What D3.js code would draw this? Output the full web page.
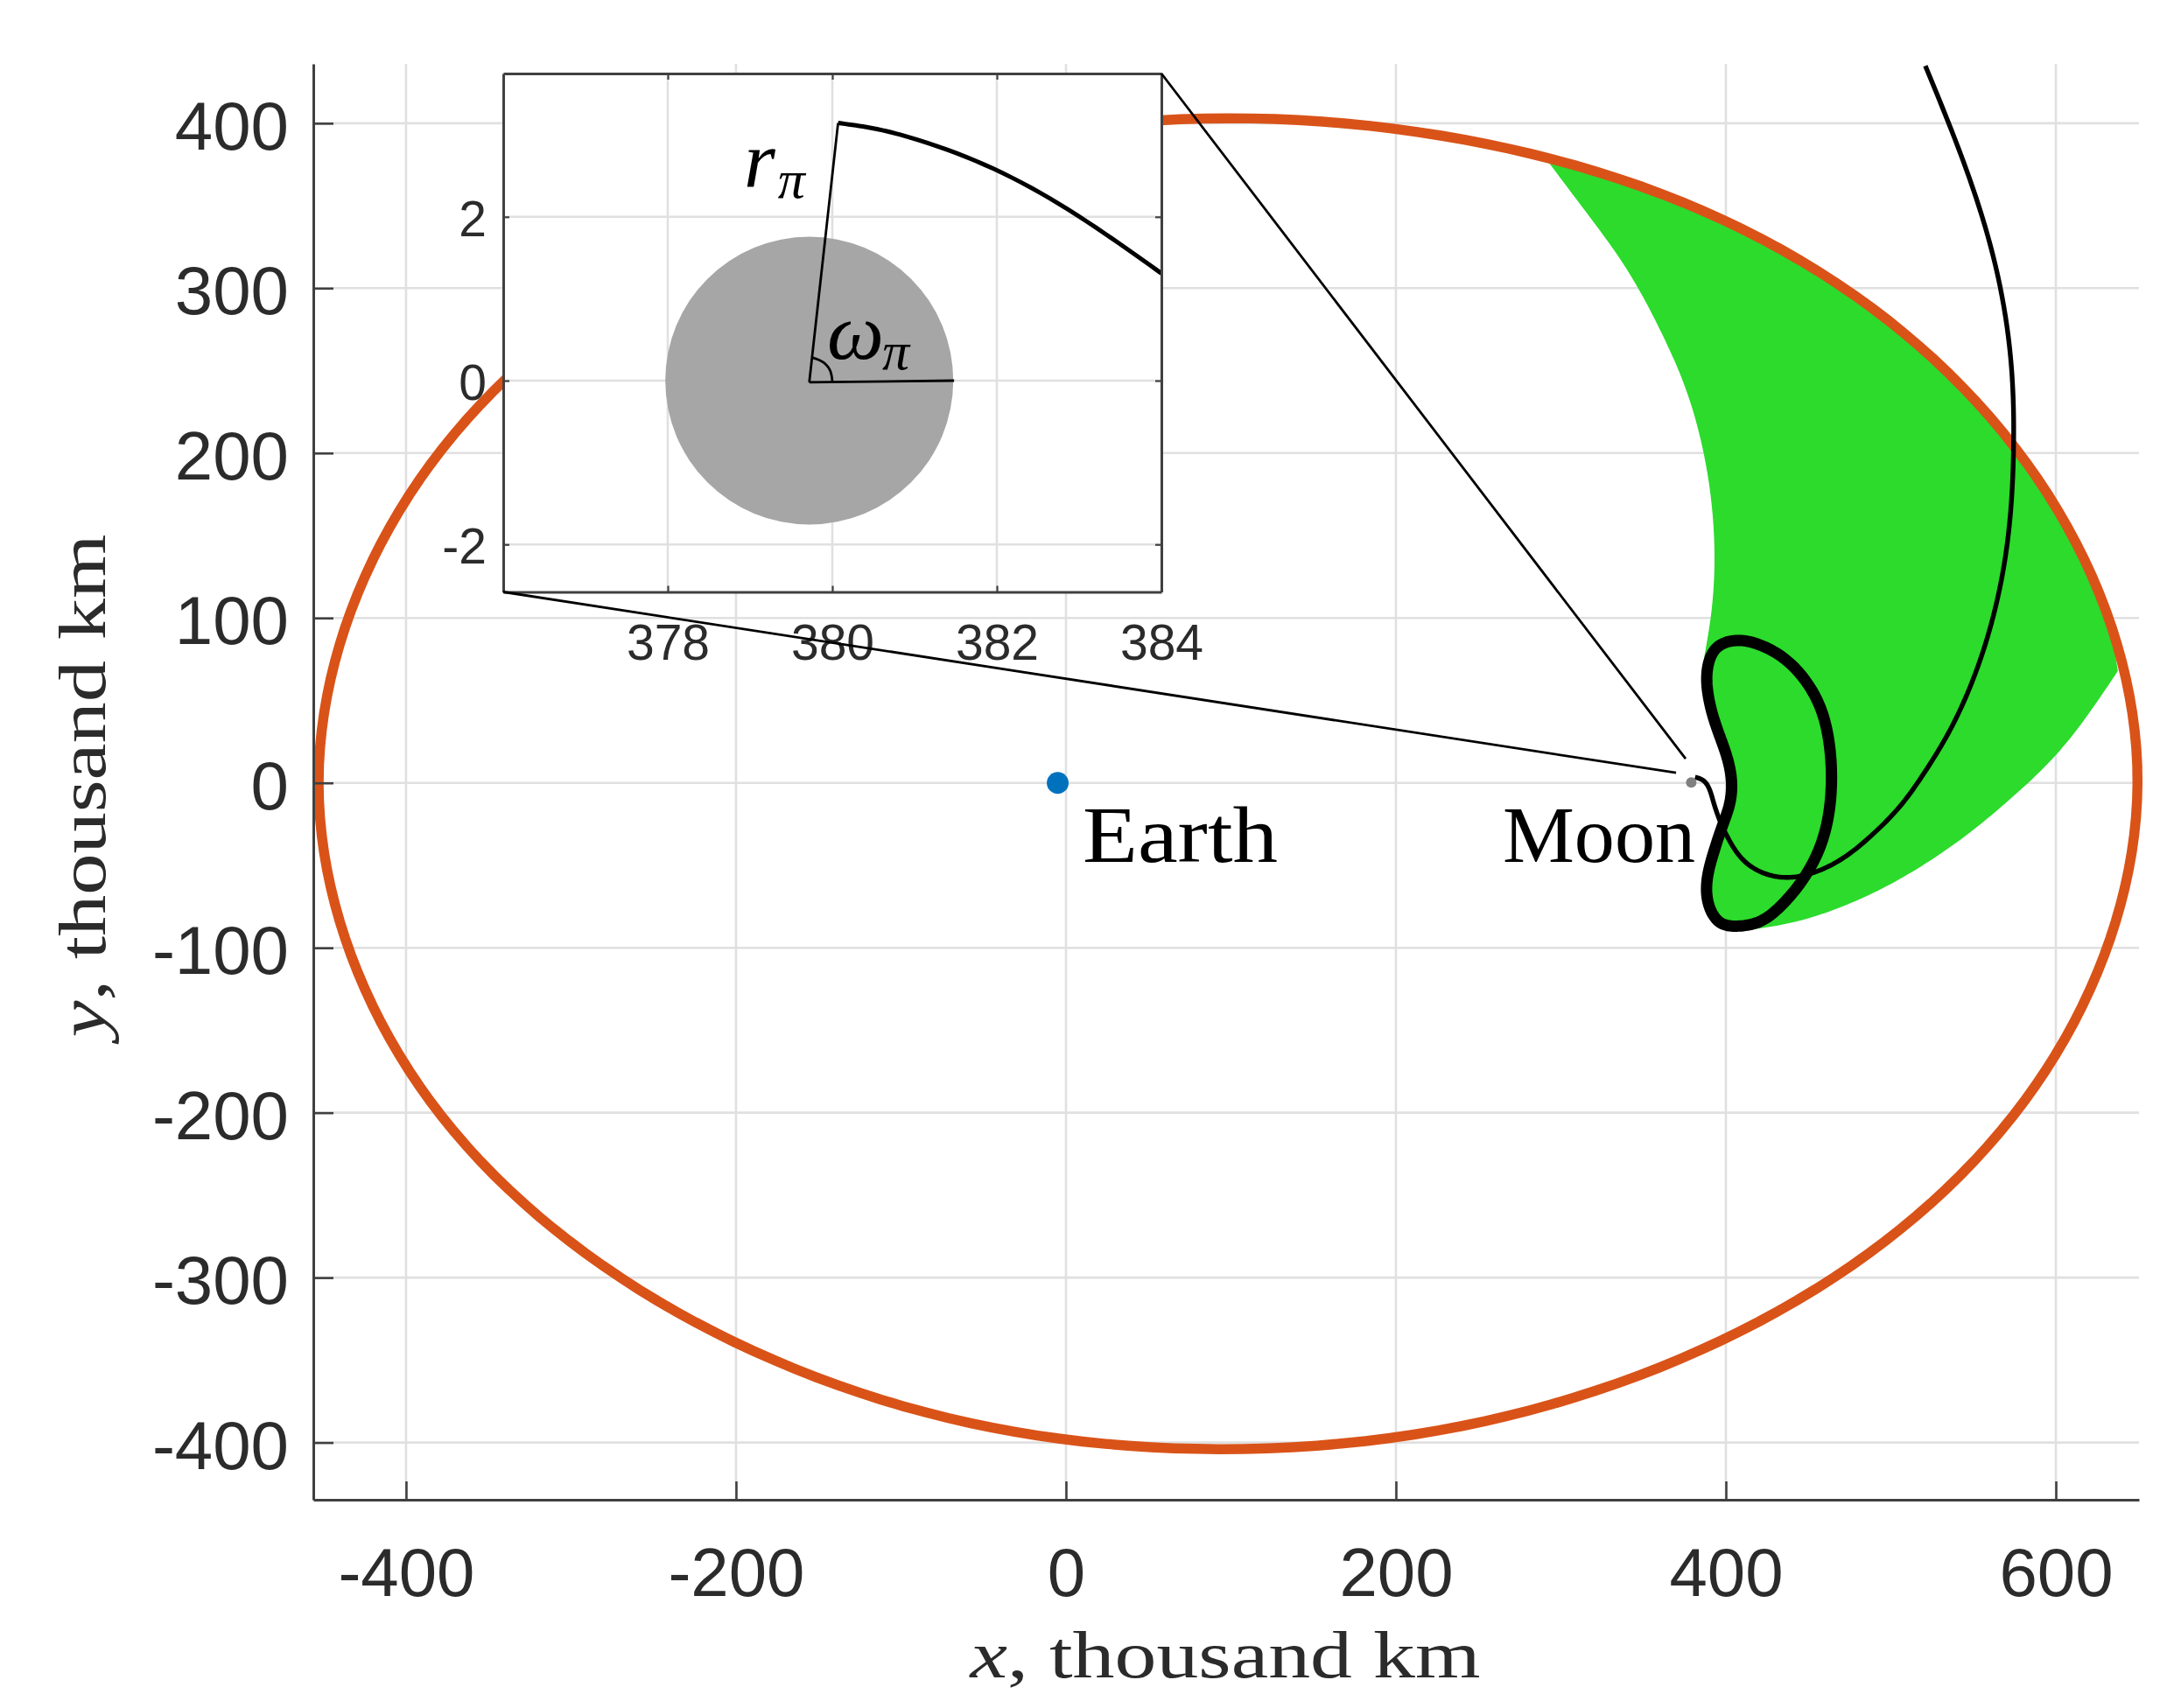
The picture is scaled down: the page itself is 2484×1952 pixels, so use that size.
<!DOCTYPE html>
<html><head><meta charset="utf-8">
<script src="https://cdn.jsdelivr.net/npm/d3@7"></script>
<style>html,body{margin:0;padding:0;background:#fff}svg{display:block}</style>
</head><body><svg id="c" width="2484" height="1952"></svg>
<script>
// Main axes (thousand km)
const xTicks = [-400,-200,0,200,400,600];
const yTicks = [-400,-300,-200,-100,0,100,200,300,400];
const xDomain = [-456.2,650.4];
const yDomain = [-434.7,436];
// Inset axes
const insetXTicks = [378,380,382,384];
const insetYTicks = [-2,0,2];
const insetXDomain = [376,384];
const insetYDomain = [-2.58,3.75];

const orbit = [[649.5,0],[630.5,104],[575.5,203],[488.5,288],[374,352],[241.5,390],[98,403],[-44.5,389],[-177,349],[-291.5,285],[-378.5,202],[-433.5,104],[-453,0],[-433.5,-104],[-378.5,-202],[-291.5,-285],[-177,-350],[-44.5,-391],[93,-404],[240,-390],[373,-349],[487,-285],[574,-202],[629.5,-104]];
const bean = [[407.8,86.4],[420.2,83.8],[432.5,77.5],[446.7,64],[457.3,45.5],[462.6,24],[464,2.4],[462.6,-17],[457.3,-38.2],[448.4,-55.9],[434.3,-73.6],[420.2,-84.2],[407.8,-86.8],[397.2,-85.1],[390.1,-75.4],[388.3,-63],[392.7,-41.8],[398,-25.8],[402.5,-11.7],[403.3,2.4],[399.8,18.4],[393.6,36],[389.2,53.7],[388.9,69.6],[394.5,82]];
const trajectory = [[381.3,3.5],[385.5,2],[392.3,-11],[401.6,-34],[411.3,-47.5],[423.7,-55],[436.1,-57.3],[453.7,-54.2],[471.5,-45.3],[489.1,-31.1],[505.2,-14.6],[520.5,6.5],[534.5,29.5],[546.5,54.5],[561,97],[569.7,139],[574.4,205],[573.1,251.8],[563.4,313.7],[545.7,372],[520.9,434.8]];
// Green region boundary pieces
const greenInner = [[292,377],[317.6,343],[337,316],[361.8,271.2],[374.2,242.9],[386.6,199.6],[393.1,136.8],[391,101.9],[387,77]];
const greenBeanSide = [[387,77],[389.2,53.7],[393.6,36],[399.8,18.4],[403.3,2.4],[402.5,-11.7],[398,-25.8],[392.7,-41.8],[388.3,-63],[390.1,-75.4],[397.2,-85.1],[407.8,-86.8],[416.6,-88.9]];
const greenOuter = [[416.6,-88.9],[441.4,-84.4],[467.9,-76],[494.4,-64.2],[520.9,-49],[547.5,-30.4],[574,-8.3],[600.5,17.4],[618.2,39.6],[637.6,67.9]];
const greenOrbit = [[637.6,67.9],[630.5,104],[575.5,203],[488.5,288],[374,352],[292,377]];

const earth = [-5,0];
const moonMain = [379,0.3];
const connectorEnds = [[375.6,14.6],[369.8,6.1]];

// Inset marks
const moonCentre = [379.72,0];
const moonRadius = 1.75;
const insetArc = [[380.07,3.146],[380.5,3.08],[381.04,2.94],[382.18,2.48],[383.32,1.79],[384,1.31]];
const radiusLine = [[379.72,-0.02],[380.07,3.146]];
const angleLine = [[379.72,-0.02],[381.48,0]];
const angleMark = [[380,-0.01],[379.97,0.13],[379.88,0.23],[379.76,0.28]];

const svg = d3.select('#c');
const SANS = "'Liberation Sans',Arial,sans-serif";
const SERIF = "'Liberation Serif','Times New Roman',serif";
const INK = '#2b2b2b', SPINE = '#404040', GRID = '#e0e0e0';

const x = d3.scaleLinear().domain(xDomain).range([358,2444]);
const y = d3.scaleLinear().domain(yDomain).range([1714,73]);
const ix = d3.scaleLinear().domain(insetXDomain).range([575,1327]);
const iy = d3.scaleLinear().domain(insetYDomain).range([676.5,84]);

const mainLine = d3.line().x(d=>x(d[0])).y(d=>y(d[1]));
const insetLine = d3.line().x(d=>ix(d[0])).y(d=>iy(d[1]));

// d3 curve factory: natural cubic spline parameterised by chord length,
// so unevenly spaced read-off points still give a smooth stroke.
function splineCoord(t, v){
  const n=v.length, a=new Array(n).fill(0), b=new Array(n).fill(1), c=new Array(n).fill(0), r=new Array(n).fill(0);
  for(let i=1;i<n-1;i++){
    const h0=t[i]-t[i-1], h1=t[i+1]-t[i];
    a[i]=h0; b[i]=2*(h0+h1); c[i]=h1; r[i]=6*((v[i+1]-v[i])/h1-(v[i]-v[i-1])/h0);
  }
  for(let i=1;i<n;i++){const m=a[i]/b[i-1]; b[i]-=m*c[i-1]; r[i]-=m*r[i-1];}
  const s=new Array(n).fill(0);
  s[n-1]=r[n-1]/b[n-1];
  for(let i=n-2;i>=0;i--) s[i]=(r[i]-c[i]*s[i+1])/b[i];
  return (i,u)=>{
    const h=t[i+1]-t[i], A=1-u, B=u;
    return A*v[i]+B*v[i+1]+((A*A*A-A)*s[i]+(B*B*B-B)*s[i+1])*h*h/6;
  };
}
function chordSpline(context, closed){
  let px=[],py=[];
  return {
    lineStart(){px=[];py=[];},
    point(a,b){px.push(a);py.push(b);},
    areaStart(){},areaEnd(){},
    lineEnd(){
      const n=px.length;
      const X=closed?[...px,...px,...px,px[0]]:px, Y=closed?[...py,...py,...py,py[0]]:py;
      const t=[0];
      for(let i=1;i<X.length;i++) t.push(t[i-1]+Math.hypot(X[i]-X[i-1],Y[i]-Y[i-1]));
      const fx=splineCoord(t,X), fy=splineCoord(t,Y);
      const from=closed?n:0, to=closed?2*n:X.length-1;
      context.moveTo(fx(from,0),fy(from,0));
      for(let i=from;i<to;i++) for(let k=1;k<=10;k++) context.lineTo(fx(i,k/10),fy(i,k/10));
      if(closed) context.closePath();
    }
  };
}
const curveOpen = ctx=>chordSpline(ctx,false);
const curveClosed = ctx=>chordSpline(ctx,true);
const smooth = (pts, curve=curveOpen) => mainLine.curve(curve)(pts);

function grid(sel, xs, ys, sx, sy){
  const g = sel.append('g').attr('stroke',GRID).attr('stroke-width',2.6);
  g.selectAll('.v').data(xs).join('line').attr('x1',sx).attr('x2',sx).attr('y1',sy.range()[0]).attr('y2',sy.range()[1]);
  g.selectAll('.h').data(ys).join('line').attr('y1',sy).attr('y2',sy).attr('x1',sx.range()[0]).attr('x2',sx.range()[1]);
}
function styleAxis(g, size, sw){
  g.attr('font-family',SANS).attr('font-size',size);
  g.selectAll('text').attr('fill',INK);
  g.selectAll('line').attr('stroke',SPINE).attr('stroke-width',sw);
  g.select('.domain').attr('stroke',SPINE).attr('stroke-width',3);
}

// main grid
grid(svg, xTicks, yTicks, x, y);

// green region
const greenPath = [greenInner,greenBeanSide,greenOuter,greenOrbit]
  .map((p,i)=>{const s=smooth(p);return i? 'L'+s.slice(1):s;}).join('')+'Z';
svg.append('path').attr('d',greenPath).attr('fill','#2CDB2C');

// orbit
svg.append('path').attr('d',smooth(orbit,curveClosed))
  .attr('fill','none').attr('stroke','#D95319').attr('stroke-width',11.5);

// trajectory and halo orbit
svg.append('path').attr('d',smooth(trajectory)).attr('fill','none').attr('stroke','#000').attr('stroke-width',5.4);
svg.append('path').attr('d',smooth(bean,curveClosed))
  .attr('fill','none').attr('stroke','#000').attr('stroke-width',13);

// Earth / Moon dots
svg.append('circle').attr('cx',x(earth[0])).attr('cy',y(earth[1])).attr('r',12.5).attr('fill','#0072BD');
svg.append('circle').attr('cx',x(moonMain[0])).attr('cy',y(moonMain[1])).attr('r',6).attr('fill','#808080');

// main axes
const gx = svg.append('g').attr('transform','translate(0,1714)')
  .call(d3.axisBottom(x).tickValues(xTicks).tickSize(-21).tickSizeOuter(0).tickPadding(55).tickFormat(String));
styleAxis(gx,78,2.6);
const gy = svg.append('g').attr('transform','translate(358,0)')
  .call(d3.axisLeft(y).tickValues(yTicks).tickSize(-23).tickSizeOuter(0).tickPadding(28).tickFormat(String));
styleAxis(gy,78,2.6);
gy.selectAll('text').attr('dy','.38em');

// axis titles
const xt = svg.append('text').attr('x',1400).attr('y',1917).attr('text-anchor','middle')
  .attr('font-family',SERIF).attr('font-size',76).attr('fill',INK)
  .attr('textLength',583).attr('lengthAdjust','spacingAndGlyphs');
xt.append('tspan').attr('font-style','italic').text('x');
xt.append('tspan').text(', thousand km');
const yt = svg.append('text').attr('transform','translate(120,898) rotate(-90)').attr('text-anchor','middle')
  .attr('font-family',SERIF).attr('font-size',76).attr('fill',INK)
  .attr('textLength',575).attr('lengthAdjust','spacingAndGlyphs');
yt.append('tspan').attr('font-style','italic').text('y');
yt.append('tspan').text(', thousand km');

// body labels
svg.append('text').attr('x',1237).attr('y',985).attr('font-family',SERIF).attr('font-size',92).attr('fill','#000')
  .attr('textLength',223).attr('lengthAdjust','spacingAndGlyphs').text('Earth');
svg.append('text').attr('x',1717).attr('y',985).attr('font-family',SERIF).attr('font-size',92).attr('fill','#000')
  .attr('textLength',220).attr('lengthAdjust','spacingAndGlyphs').text('Moon');

// inset
const ins = svg.append('g');
ins.append('rect').attr('x',575).attr('y',84).attr('width',752).attr('height',592.5).attr('fill','#fff');
grid(ins, insetXTicks, insetYTicks, ix, iy);
ins.append('circle').attr('cx',ix(moonCentre[0])).attr('cy',iy(moonCentre[1]))
  .attr('r',ix(moonCentre[0]+moonRadius)-ix(moonCentre[0])).attr('fill','#A6A6A6');
ins.append('path').attr('d',insetLine.curve(curveOpen)(insetArc)).attr('fill','none').attr('stroke','#000').attr('stroke-width',5);
ins.append('path').attr('d',insetLine.curve(d3.curveLinear)(radiusLine)).attr('fill','none').attr('stroke','#000').attr('stroke-width',2.8);
ins.append('path').attr('d',insetLine.curve(d3.curveLinear)(angleLine)).attr('fill','none').attr('stroke','#000').attr('stroke-width',2.8);
ins.append('path').attr('d',insetLine.curve(curveOpen)(angleMark)).attr('fill','none').attr('stroke','#000').attr('stroke-width',2.8);

const ibx = ins.append('g').attr('transform','translate(0,676.5)')
  .call(d3.axisBottom(ix).tickValues(insetXTicks).tickSize(-7).tickSizeOuter(0).tickPadding(37).tickFormat(String));
styleAxis(ibx,57,2.2);
const itx = ins.append('g').attr('transform','translate(0,84)')
  .call(d3.axisTop(ix).tickValues(insetXTicks).tickSize(-7).tickSizeOuter(0).tickFormat(''));
styleAxis(itx,57,2.2);
const ily = ins.append('g').attr('transform','translate(575,0)')
  .call(d3.axisLeft(iy).tickValues(insetYTicks).tickSize(-7).tickSizeOuter(0).tickPadding(19).tickFormat(String));
styleAxis(ily,57,2.2);
ily.selectAll('text').attr('dy','.38em');
const iry = ins.append('g').attr('transform','translate(1327,0)')
  .call(d3.axisRight(iy).tickValues(insetYTicks).tickSize(-7).tickSizeOuter(0).tickFormat(''));
styleAxis(iry,57,2.2);

// math labels in the inset
function mathLabel(px,py,sym,subDx,subDy){
  const t = ins.append('text').attr('x',px).attr('y',py).attr('font-family',SERIF).attr('fill','#000');
  t.append('tspan').attr('font-style','italic').attr('font-size',92).text(sym);
  t.append('tspan').attr('font-style','italic').attr('font-size',62).attr('dx',subDx).attr('dy',subDy).text('π');
}
mathLabel(850,213,'r',3,13);
mathLabel(945,410,'ω',-2,12);

// zoom connectors
const corners = [[insetXDomain[1],insetYDomain[1]],[insetXDomain[0],insetYDomain[0]]];
connectorEnds.forEach((e,i)=>{
  svg.append('line').attr('x1',ix(corners[i][0])).attr('y1',iy(corners[i][1]))
    .attr('x2',x(e[0])).attr('y2',y(e[1])).attr('stroke','#000').attr('stroke-width',2.8);
});
</script></body></html>
